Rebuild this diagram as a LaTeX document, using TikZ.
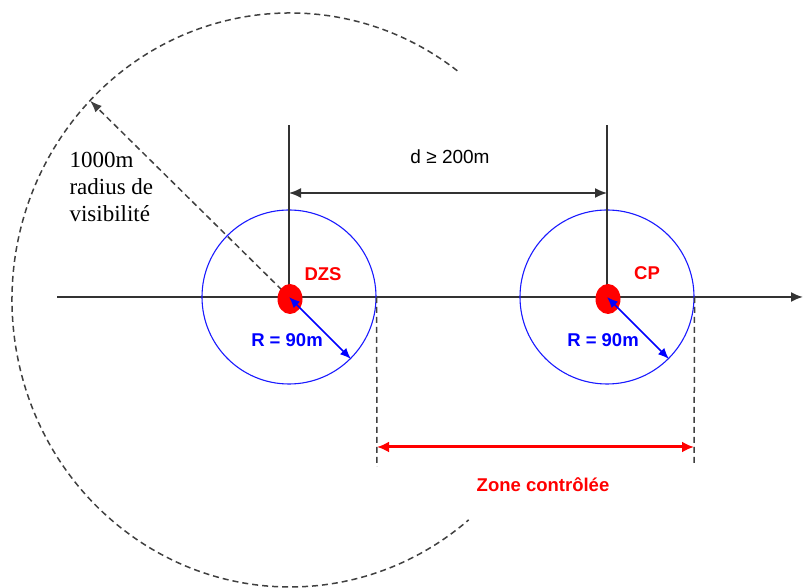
\documentclass[tikz,border=0pt]{standalone}
\usepackage{fontspec}
\setmainfont{Liberation Serif}
\setsansfont{Liberation Sans}
\usetikzlibrary{arrows.meta,calc,positioning}

\tikzset{
    zone/.style={draw=blue!90!white, line width=1.1pt, circle, minimum size=174pt, inner sep=0pt},
    guide/.style={dashed, dash pattern=on 6pt off 4pt, line width=1.5pt, black!75},
    stem/.style={line width=1.6pt, black!80},
    lbl/.style={font=\sffamily\bfseries\fontsize{18.5}{22}\selectfont},
}

\begin{document}
\begin{tikzpicture}[x=1pt,y=1pt]
    \useasboundingbox (0,0) rectangle (803,588);

    % Centres of DZS and CP
    \coordinate (dzs) at (289,291);
    \coordinate (cp) at (607,291);

    % Visibility radius, dashed
    \coordinate (viscentre) at (290,288);
    \draw[guide] (viscentre) ++(53:278 and 287)
        arc[start angle=53, end angle=310, x radius=278, y radius=287];
    \coordinate (vis) at ($(viscentre)+(136:278 and 287)$);
    \draw[guide, -{Latex[length=12pt,width=9pt]}] (dzs) -- (vis);
    \node[font=\fontsize{23}{27}\selectfont, align=left, anchor=west] (vislabel) at (66,401) {1000m\\radius de\\visibilit\'e};

    % Axis
    \coordinate (axisstart) at (57,291);
    \coordinate (axisend) at (803,291);
    \draw[line width=1.9pt, black!80, -{Latex[length=12pt,width=10pt]}] (axisstart) -- (axisend);

    % Blue zones
    \node[zone] (dzszone) at (dzs) {};
    \node[zone] (cpzone) at (cp) {};

    % Vertical lines
    \coordinate (dzstop) at (289,463);
    \coordinate (cptop) at (607,463);
    \draw[stem] (dzs) -- (dzstop);
    \draw[stem] (cp) -- (cptop);

    % Distance d
    \coordinate (dleft) at (289,395);
    \coordinate (dright) at (607,395);
    \draw[stem, {Latex[length=12pt,width=10pt]}-{Latex[length=12pt,width=10pt]}] (dleft) -- (dright);
    \node[font=\sffamily\fontsize{19}{22}\selectfont] (dtext) at (450,431) {d ≥ 200m};

    % Red points
    \fill[red] ($(dzs)+(1,-2)$) ellipse [x radius=12.5, y radius=15];
    \fill[red] ($(cp)+(1,-2)$) ellipse [x radius=12.5, y radius=15];
    \node[lbl, red] (dzslabel) at (323,314) {DZS};
    \node[lbl, red] (cplabel) at (647,315) {CP};

    % Radius R
    \draw[blue, line width=1.5pt, {Latex[length=11pt,width=9pt]}-{Latex[length=11pt,width=9pt]}] (dzs) -- (dzszone.-45);
    \draw[blue, line width=1.5pt, {Latex[length=11pt,width=9pt]}-{Latex[length=11pt,width=9pt]}] (cp) -- (cpzone.-45);
    \node[lbl, blue] (dzsr) at (287,248) {R = 90m};
    \node[lbl, blue] (cpr) at (603,248) {R = 90m};

    % Controlled zone
    \coordinate (zonelow) at (377,121);
    \coordinate (cplow) at (694,123);
    \draw[guide] (dzszone.east) -- (zonelow);
    \draw[guide] (cpzone.east) -- (cplow);
    \coordinate (zleft) at (377,141);
    \coordinate (zright) at (694,141);
    \draw[red, line width=3pt, {Latex[length=12pt,width=11pt]}-{Latex[length=12pt,width=11pt]}] (zleft) -- (zright);
    \node[lbl, red] (zonelabel) at (543,103) {Zone contr\^ol\'ee};

\end{tikzpicture}
\end{document}
